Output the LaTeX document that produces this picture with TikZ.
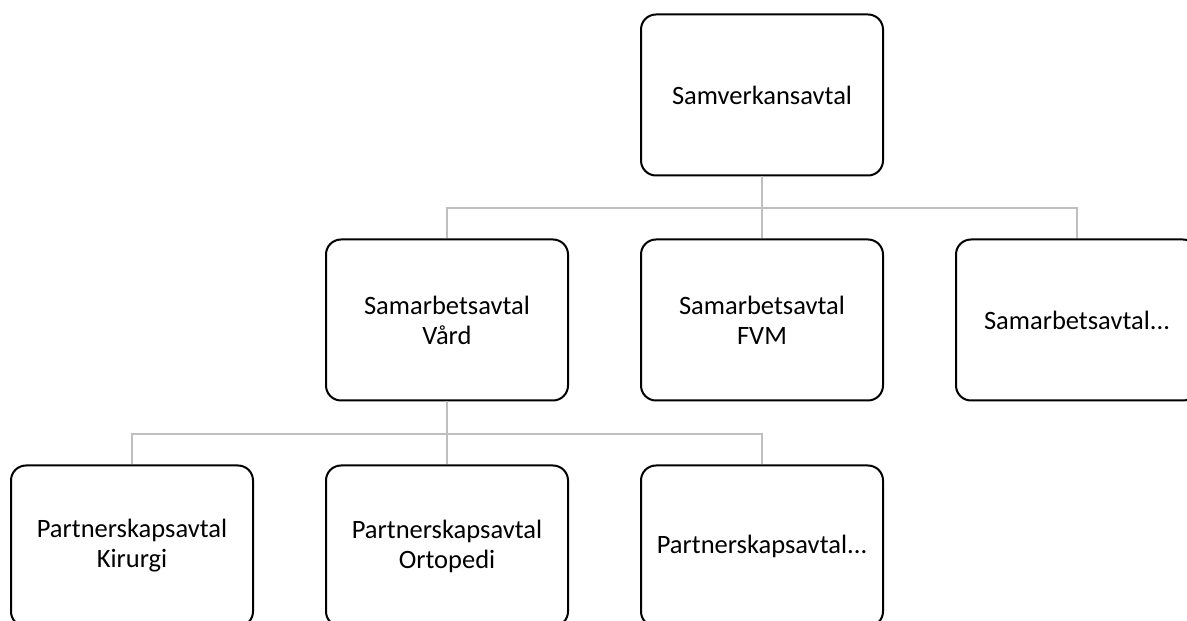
\documentclass[tikz,border=0pt]{standalone}
\usepackage{fontspec}
\setmainfont{Carlito}
\begin{document}
\begin{tikzpicture}[x=1pt,y=1pt,
  box/.style={draw=black, line width=2pt, rounded corners=15pt, fill=white,
    minimum width=242pt, minimum height=161pt, align=center, inner sep=0pt,
    font=\fontsize{26.5}{30}\selectfont},
  link/.style={draw=black!25, line width=2pt}]
\useasboundingbox (0,0) rectangle (1187,621);
\clip (0,0) rectangle (1187,621);
\node[box] (top) at (762,526) {Samverkansavtal};
\node[box] (vard) at (447,301) {Samarbetsavtal\\Vård};
\node[box] (fvm) at (762,301) {Samarbetsavtal\\FVM};
\node[box] (more) at (1077,301) {Samarbetsavtal...};
\node[box] (kir) at (132,75) {Partnerskapsavtal\\Kirurgi};
\node[box] (ort) at (447,75) {Partnerskapsavtal\\Ortopedi};
\node[box] (pmore) at (762,75) {Partnerskapsavtal...};
\path[link] (top.south) -- ++(0,-32) -| (vard.north);
\path[link] (top.south) -- (fvm.north);
\path[link] (top.south) -- ++(0,-32) -| (more.north);
\path[link] (vard.south) -- ++(0,-33) -| (kir.north);
\path[link] (vard.south) -- (ort.north);
\path[link] (vard.south) -- ++(0,-33) -| (pmore.north);
\end{tikzpicture}
\end{document}
